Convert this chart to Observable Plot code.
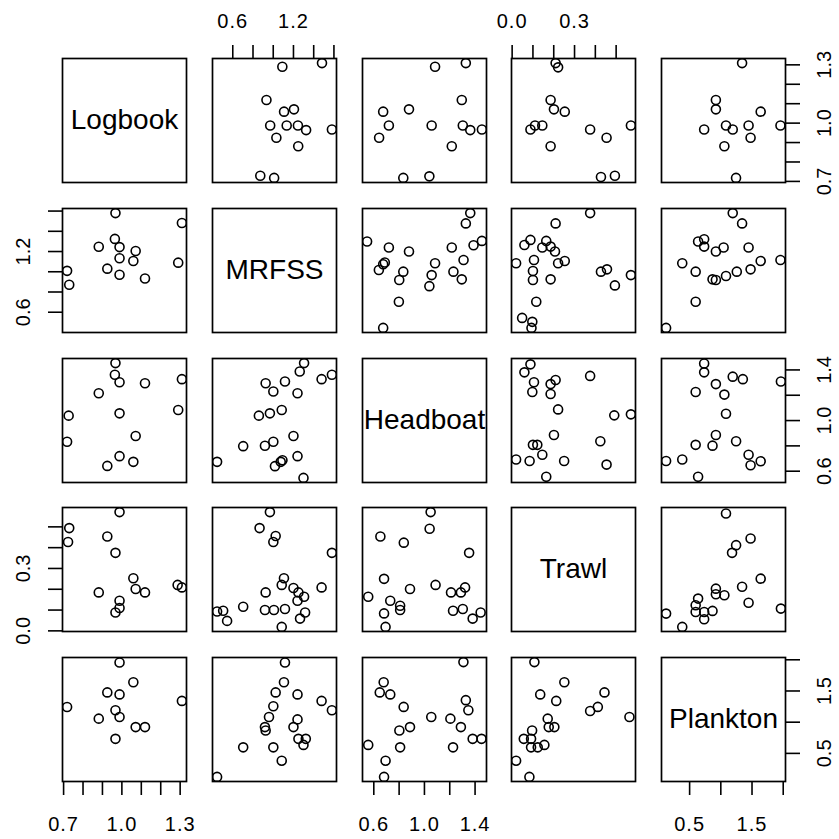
<!DOCTYPE html>
<html><head><meta charset="utf-8">
<script src="https://cdn.jsdelivr.net/npm/d3@7"></script>
<script src="https://cdn.jsdelivr.net/npm/@observablehq/plot@0.6"></script>
<style>
html,body{margin:0;padding:0;background:#fff;}
#chart{position:relative;width:839px;height:839px;overflow:hidden;background:#fff;}
.panel{position:absolute;}
.panel g[aria-label="x-axis tick label"] text,
.panel g[aria-label="y tick label"] text{letter-spacing:1px;}
</style></head><body><div id="chart"></div>
<script>
const variables = ["Logbook", "MRFSS", "Headboat", "Trawl", "Plankton"];

// Lower-triangle panels: [x = column variable, y = row variable]
const logbookMrfss = [[0.967,1.580],[1.309,1.482],[0.964,1.325],[0.881,1.247],[0.988,1.244],[1.071,1.205],[0.988,1.133],[1.059,1.107],[1.290,1.090],[0.925,1.031],[0.718,1.009],[0.988,0.970],[1.119,0.933],[0.729,0.872]];
const logbookHeadboat = [[0.967,1.454],[0.964,1.362],[0.988,1.303],[1.119,1.295],[1.309,1.327],[0.881,1.216],[1.290,1.084],[0.726,1.039],[0.988,1.057],[1.071,0.878],[0.718,0.833],[0.988,0.719],[1.059,0.674],[0.925,0.642]];
const mrfssHeadboat = [[1.305,1.454],[1.262,1.388],[1.580,1.362],[1.478,1.327],[0.925,1.295],[1.116,1.309],[1.001,1.229],[1.240,1.216],[1.084,1.084],[0.967,1.057],[0.858,1.039],[1.200,0.878],[1.001,0.833],[0.918,0.801],[0.703,0.798],[0.445,0.674],[1.240,0.719],[1.091,0.687],[1.074,0.674],[1.017,0.640],[1.299,0.547]];
const logbookTrawl = [[0.988,0.571],[0.729,0.494],[0.723,0.427],[0.925,0.454],[0.967,0.375],[1.059,0.253],[1.071,0.201],[1.119,0.185],[0.881,0.185],[1.287,0.221],[1.309,0.209],[0.988,0.145],[0.988,0.110],[0.967,0.088]];
const mrfssTrawl = [[0.967,0.571],[0.865,0.494],[1.024,0.456],[1.001,0.427],[1.580,0.375],[1.106,0.253],[1.084,0.221],[1.200,0.206],[1.249,0.185],[1.478,0.209],[0.925,0.185],[1.305,0.164],[1.240,0.145],[0.703,0.116],[0.918,0.100],[1.007,0.100],[1.116,0.105],[0.445,0.093],[0.505,0.097],[0.544,0.048],[1.315,0.088],[1.265,0.059],[1.084,0.019]];
const headboatTrawl = [[1.049,0.571],[1.041,0.491],[0.652,0.454],[0.837,0.424],[1.353,0.375],[0.681,0.250],[0.886,0.201],[1.088,0.221],[1.210,0.185],[1.288,0.185],[1.321,0.209],[0.556,0.164],[0.730,0.145],[0.808,0.121],[0.808,0.100],[0.681,0.084],[1.226,0.097],[1.303,0.105],[1.444,0.088],[1.381,0.059],[0.693,0.019]];
const logbookPlankton = [[0.988,1.956],[1.059,1.639],[0.925,1.477],[0.988,1.445],[1.309,1.341],[0.718,1.244],[0.967,1.191],[0.988,1.083],[0.881,1.057],[1.071,0.921],[1.119,0.921],[0.967,0.733]];
const mrfssPlankton = [[1.116,1.956],[1.106,1.639],[1.024,1.477],[1.240,1.445],[1.478,1.341],[1.580,1.191],[1.001,1.256],[0.958,1.083],[1.240,1.045],[0.918,0.921],[0.925,0.867],[1.200,0.921],[1.249,0.733],[1.322,0.733],[1.299,0.636],[0.703,0.597],[1.001,0.597],[1.084,0.382],[0.445,0.123]];
const headboatPlankton = [[1.308,1.963],[0.678,1.639],[0.647,1.477],[0.730,1.445],[1.327,1.353],[1.347,1.191],[0.836,1.245],[1.054,1.083],[1.205,1.057],[0.886,0.921],[0.802,0.867],[1.288,0.921],[1.381,0.733],[1.451,0.733],[0.556,0.636],[0.808,0.597],[1.226,0.597],[0.693,0.382],[0.681,0.123]];
const trawlPlankton = [[0.107,1.963],[0.251,1.639],[0.135,1.445],[0.212,1.341],[0.444,1.477],[0.412,1.245],[0.375,1.180],[0.564,1.083],[0.171,1.057],[0.176,0.921],[0.203,0.921],[0.096,0.867],[0.056,0.733],[0.091,0.733],[0.091,0.597],[0.123,0.597],[0.155,0.636],[0.019,0.382],[0.083,0.123]];

// Axis ticks and labelled ticks
const logbookTicks = [0.7,0.8,0.9,1.0,1.1,1.2,1.3];
const logbookLabels = [0.7,1.0,1.3];
const mrfssTicks = [0.6,0.8,1.0,1.2,1.4,1.6];
const mrfssLabels = [0.6,1.2];
const headboatTicks = [0.6,0.8,1.0,1.2,1.4];
const headboatLabels = [0.6,1.0,1.4];
const trawlTicks = [0.0,0.1,0.2,0.3,0.4,0.5];
const trawlLabels = [0.0,0.3];
const planktonTicks = [0.5,1.0,1.5,2.0];
const planktonLabels = [0.5,1.5];

const ticks = [logbookTicks, mrfssTicks, headboatTicks, trawlTicks, planktonTicks];
const labels = [logbookLabels, mrfssLabels, headboatLabels, trawlLabels, planktonLabels];

// pairs[row][col] for row > col
const pairs = {
  "1,0": logbookMrfss,
  "2,0": logbookHeadboat, "2,1": mrfssHeadboat,
  "3,0": logbookTrawl, "3,1": mrfssTrawl, "3,2": headboatTrawl,
  "4,0": logbookPlankton, "4,1": mrfssPlankton, "4,2": headboatPlankton, "4,3": trawlPlankton
};

// R-style ranges: extent of each variable plus 4% on each side
const domains = variables.map((_, v) => {
  const vals = [];
  for (const key in pairs) {
    const [r, c] = key.split(",").map(Number);
    if (c === v) pairs[key].forEach(p => vals.push(p[0]));
    if (r === v) pairs[key].forEach(p => vals.push(p[1]));
  }
  const [lo, hi] = d3.extent(vals);
  const pad = (hi - lo) * 0.04;
  return [lo - pad, hi + pad];
});

const FONT = "'Liberation Sans', Arial, Helvetica, sans-serif";
const frameSize = 124, step = 149.8, left0 = 62, top0 = 58, M = 50;
const fmt = d3.format(".1f");
const isLabel = (arr, d) => arr.some(l => Math.abs(l - d) < 1e-9);

const chart = document.getElementById("chart");

for (let i = 0; i < 5; i++) {
  for (let j = 0; j < 5; j++) {
    const marks = [];
    if (i === j) {
      marks.push(Plot.text([variables[i]], {frameAnchor: "middle", text: d => d, fontSize: 28, fill: "black"}));
    } else {
      const data = i > j ? pairs[i + "," + j] : pairs[j + "," + i].map(p => [p[1], p[0]]);
      marks.push(Plot.dot(data, {x: d => d[0], y: d => d[1], r: 4.5, stroke: "black", strokeWidth: 1.6, fill: "none", clip: true}));
    }
    marks.push(Plot.frame({stroke: "black", strokeWidth: 1.7}));
    let hasX = false, hasY = false;
    if ((i === 0 && j % 2 === 1) || (i === 4 && j % 2 === 0)) {
      hasX = true;
      const top = i === 0;
      marks.push(Plot.axisX(ticks[j], {
        anchor: top ? "top" : "bottom",
        tickSize: 14, tickPadding: top ? 17 : 21,
        tickFormat: d => isLabel(labels[j], d) ? fmt(d) : "",
        fontSize: 20, strokeWidth: 1.6, stroke: "black", fill: "black", label: null
      }));
    }
    if ((j === 0 && i % 2 === 1) || (j === 4 && i % 2 === 0)) {
      hasY = true;
      const left = j === 0;
      marks.push(Plot.axisY(ticks[i], {
        anchor: left ? "left" : "right",
        tickSize: 14, tickFormat: () => "", strokeWidth: 1.6, stroke: "black", label: null
      }));
      marks.push(Plot.text(labels[i], {
        y: d => d, text: d => fmt(d), frameAnchor: left ? "left" : "right",
        textAnchor: "middle", lineAnchor: "middle",
        dx: left ? -39 : 39, rotate: -90, fontSize: 20, fill: "black",
        ariaLabel: "y tick label"
      }));
    }
    const plot = Plot.plot({
      width: frameSize + 2 * M, height: frameSize + 2 * M,
      margin: M,
      style: {fontFamily: FONT, color: "black", background: "transparent", overflow: "visible"},
      x: Object.assign({domain: domains[j], label: null}, hasX ? {} : {axis: null}),
      y: Object.assign({domain: domains[i], label: null}, hasY ? {} : {axis: null}),
      marks
    });
    const div = document.createElement("div");
    div.className = "panel";
    div.style.left = (left0 + step * j - M) + "px";
    div.style.top = (top0 + step * i - M) + "px";
    div.style.width = (frameSize + 2 * M) + "px";
    div.appendChild(plot);
    chart.appendChild(div);
  }
}
</script></body></html>
